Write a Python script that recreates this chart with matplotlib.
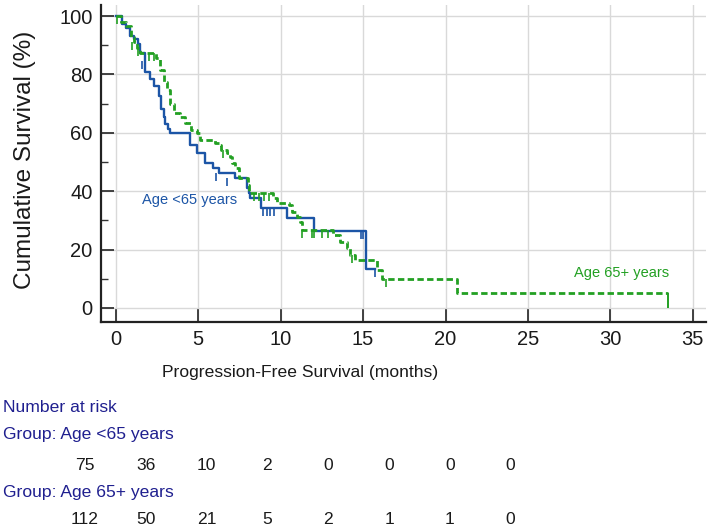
import numpy as np
import matplotlib
matplotlib.use('Agg')
import matplotlib.pyplot as plt
from matplotlib import font_manager

# Kaplan-Meier steps (months, % surviving)
times_lt65 = [0, 0.35, 0.6, 0.85, 1.1, 1.35, 1.45, 1.75, 2.1, 2.3, 2.6, 2.75, 2.9, 3.0,
              3.15, 3.3, 4.5, 4.9, 5.4, 5.9, 6.25, 7.2, 7.95, 8.05, 8.15, 8.8, 10.4, 12.0, 15.2]
surv_lt65 = [100, 97.3, 96, 93.3, 92, 90.6, 87.2, 81, 78.5, 76, 72.5, 68, 65.5, 63,
             61.3, 60, 56, 53, 49.5, 48, 46.1, 44.4, 41, 39.3, 37.6, 34.1, 31, 26.5, 13.3]
end_lt65 = 15.75
cens_t_lt65 = [1.6, 6.1, 6.75, 8.95, 9.15, 9.35, 9.6, 14.85, 15.0, 15.75]
cens_s_lt65 = [84.5, 46.1, 44.4, 34.1, 34.1, 34.1, 34.1, 26.5, 26.5, 13.3]

times_65p = [0, 0.3, 0.6, 0.9, 1.1, 1.3, 1.45, 2.45, 2.65, 2.95, 3.1, 3.3, 3.5, 3.9,
             4.2, 4.55, 4.9, 5.1, 6.0, 6.3, 6.4, 6.75, 6.95, 7.05, 7.25, 7.45, 8.0, 8.1,
             9.55, 9.75, 10.5, 10.7, 11.0, 11.2, 11.3, 13.2, 13.6, 14.0, 14.2, 14.5,
             15.85, 16.15, 20.7]
surv_65p = [100, 98, 96.5, 93, 91, 89, 87.3, 85.5, 81.5, 77.5, 74.7, 70, 66.7, 65.5,
            63.3, 61, 60, 57.5, 56.4, 55.8, 54, 53, 51.8, 49.5, 47.8, 44.4, 42.1, 39.3,
            37.6, 35.8, 35.3, 33, 31.3, 29.6, 26.7, 25, 22.7, 20.4, 18.2, 16.4,
            13, 9.8, 5]
end_65p = 33.5
cens_t_65p = [0.05, 1.0, 1.35, 2.0, 2.3, 6.5, 8.4, 8.7, 9.0, 9.3, 11.3, 11.9, 12.05,
              12.5, 12.9, 14.3, 16.4]
cens_s_65p = [100, 91, 89, 87.3, 87.3, 54, 39.3, 39.3, 39.3, 39.3, 26.7, 26.7, 26.7,
              26.7, 26.7, 18.2, 9.8]

# number at risk table
risk_times = [0, 5, 10, 15, 20, 25, 30, 35]
risk_lt65 = [75, 36, 10, 2, 0, 0, 0, 0]
risk_65p = [112, 50, 21, 5, 2, 1, 1, 0]

blue = '#1c55a6'
green = '#23a023'
navy = '#1f1f8f'
dark = '#1a1a1a'

plt.rcParams['font.family'] = ['Liberation Sans', 'DejaVu Sans']

# the lower texts look condensed; use the narrow face if it is there
names = {f.name for f in font_manager.fontManager.ttflist}
if 'Liberation Sans Narrow' in names:
    tfam = ['Liberation Sans Narrow', 'Liberation Sans']
    tsize = 15
else:
    tfam = ['Liberation Sans', 'DejaVu Sans']
    tsize = 12.6

fig = plt.figure(figsize=(7.09, 5.32), dpi=100)
ax = fig.add_axes([101/709, 1-322/532, 605/709, 317/532])

ax.step(times_lt65 + [end_lt65], surv_lt65 + [surv_lt65[-1]], where='post',
        color=blue, lw=1.7, zorder=3)
ax.plot(cens_t_lt65, cens_s_lt65, ls='none', marker=3, ms=6, mew=1.2, color=blue, zorder=3)

ax.step(times_65p + [end_65p], surv_65p + [surv_65p[-1]], where='post',
        color=green, lw=2.0, ls=(0, (2.3, 1.2)), zorder=4)
ax.plot(cens_t_65p, cens_s_65p, ls='none', marker=3, ms=6, mew=1.2, color=green, zorder=4)
ax.plot([end_65p], [surv_65p[-1]], ls='none', marker=3, ms=11, mew=1.4, color=green, zorder=4)

ax.text(1.6, 37, 'Age <65 years', color=blue, fontsize=10.5, va='center', ha='left')
ax.text(27.8, 12, 'Age 65+ years', color=green, fontsize=10.5, va='center', ha='left')

ax.set_xlim(-0.9, 35.8)
ax.set_ylim(-4.8, 103.8)
ax.set_xticks(range(0, 36, 5))
ax.set_yticks(range(0, 101, 20))
ax.set_yticks(range(10, 100, 20), minor=True)
ax.grid(True, which='major', color='#d9d9d9', lw=1.0, zorder=0)
ax.set_axisbelow(True)
for s in ['top', 'right']:
    ax.spines[s].set_visible(False)
for s in ['left', 'bottom']:
    ax.spines[s].set_linewidth(1.6)
    ax.spines[s].set_color('#222222')
ax.tick_params(which='major', direction='in', length=9.5, width=1.3, color='#333333',
               labelsize=14.5, pad=6, labelcolor=dark)
ax.tick_params(which='minor', direction='in', length=5, width=1.0, color='#333333')

ax.set_xlabel('Progression-Free Survival (months)', fontsize=tsize, color=dark,
              family=tfam, va='center')
ax.xaxis.set_label_coords((300 - 101) / 605, -(373 - 322) / 317)


def px(x, y):
    return x / 709, 1 - y / 532


fig.text(*px(25, 160), 'Cumulative Survival (%)', rotation=90, fontsize=17.5, color=dark,
         va='center', ha='center')

fig.text(*px(3, 407), 'Number at risk', color=navy, fontsize=tsize, family=tfam,
         va='center', ha='left')
fig.text(*px(3, 435), 'Group: Age <65 years', color=navy, fontsize=tsize, family=tfam,
         va='center', ha='left')
fig.text(*px(3, 492), 'Group: Age 65+ years', color=navy, fontsize=tsize, family=tfam,
         va='center', ha='left')
for i, t in enumerate(risk_times):
    fig.text(*px(85 + 60.8 * i, 465), str(risk_lt65[i]), color=dark, fontsize=tsize,
             family=tfam, va='center', ha='center')
    fig.text(*px(85 + 60.8 * i, 520), str(risk_65p[i]), color=dark, fontsize=tsize,
             family=tfam, va='center', ha='center')

fig.savefig('out.png', dpi=100)
